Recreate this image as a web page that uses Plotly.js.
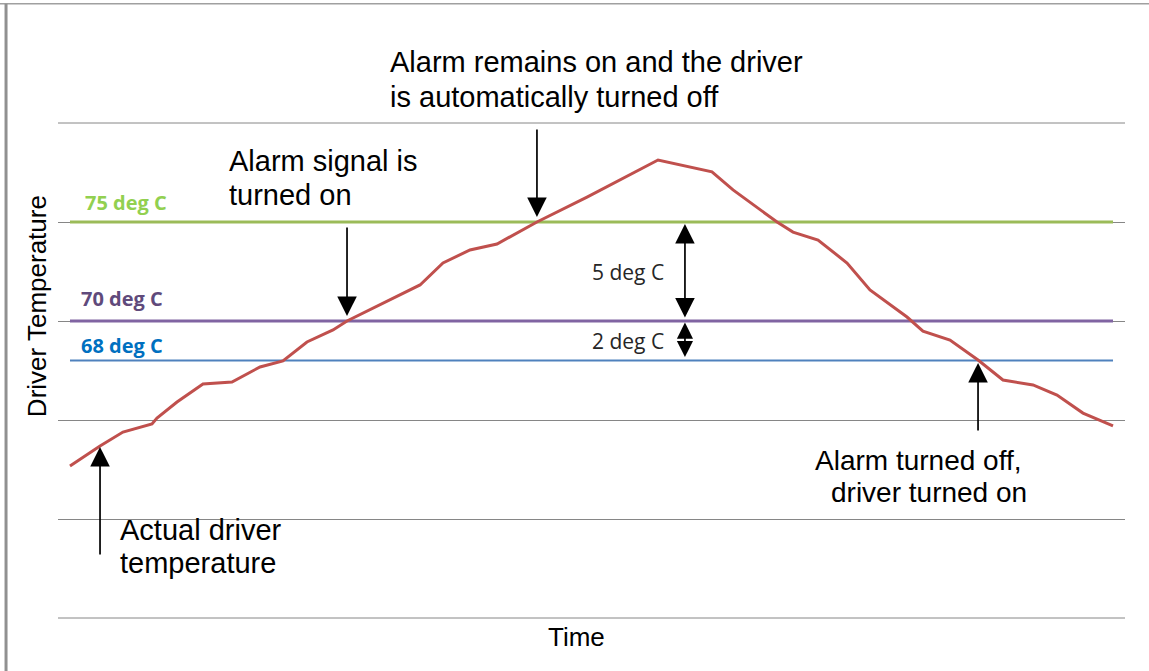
<!DOCTYPE html>
<html>
<head>
<meta charset="utf-8">
<script src="https://cdn.plot.ly/plotly-3.0.1.min.js"></script>
<style>html,body{margin:0;padding:0;background:#fff;}#chart{width:1149px;height:671px;}</style>
</head>
<body>
<div id="chart"></div>
<script>
// Actual driver temperature over time (time in arbitrary units 0..100, temperature in deg C)
const timeValues = [0, 2.88, 5.08, 7.86, 8.34, 10.26, 12.75, 15.53, 18.22, 20.42, 22.72, 25.22, 26.56,
  31.64, 33.56, 35.76, 38.35, 40.94, 44.77, 49.57, 56.38, 61.55, 63.57, 67.79, 69.32, 71.72, 74.50,
  76.70, 80.25, 81.78, 84.37, 87.06, 89.45, 92.33, 94.63, 97.12, 100];
const tempValues = [62.68, 63.69, 64.39, 64.80, 65.10, 65.91, 66.82, 66.92, 67.68, 67.98, 68.94, 69.55, 70.0,
  71.31, 71.82, 72.93, 73.59, 73.89, 75.0, 76.26, 78.13, 77.53, 76.62, 75.0, 74.49, 74.09, 72.93,
  71.57, 70.20, 69.49, 69.04, 68.03, 67.02, 66.77, 66.26, 65.35, 64.70];

// Threshold levels
const thresholdTemps = [75, 70, 68];
const thresholdLabels = ['75 deg C', '70 deg C', '68 deg C'];
const thresholdLineColors = ['#9BBB59', '#8064A2', '#4F81BD'];
const thresholdLabelColors = ['#92D050', '#604A7B', '#0070C0'];
const thresholdWidths = [3, 3, 2];
const timeSpan = [0, 100];

// Callout arrows: head (time, temp), tail temp
const arrowHeadTime = [44.77, 26.56, 2.88, 87.06];
const arrowHeadTemp = [75.25, 70.25, 63.64, 67.88];
const arrowTailTemp = [79.75, 74.8, 58.13, 64.39];

// Callout text lines
const topCallout = ['Alarm remains on and the driver', 'is automatically turned off'];
const signalCallout = ['Alarm signal is', 'turned on'];
const actualCallout = ['Actual driver', 'temperature'];
const offCallout = ['Alarm turned off,', 'driver turned on'];

const gapLabels = ['5 deg C', '2 deg C'];
const gapTime = 58.96;

const FONT = 'Liberation Sans, Arial, sans-serif';
const CAL = 'Open Sans, Noto Sans, sans-serif';
const TXT = 29;

const traces = [];
thresholdTemps.forEach((t, i) => {
  traces.push({x: timeSpan, y: [t, t], mode: 'lines', line: {color: thresholdLineColors[i], width: thresholdWidths[i]}, hoverinfo: 'skip', showlegend: false});
});
traces.push({x: timeValues, y: tempValues, mode: 'lines', line: {color: '#C0504D', width: 3}, showlegend: false});

const ann = [];
// threshold labels
const labelTempPos = [75.96, 71.16, 68.74];
const labelTimePos = [1.2, 0.85, 0.85];
thresholdTemps.forEach((t, i) => {
  ann.push({x: labelTimePos[i], y: labelTempPos[i], xref: 'x', yref: 'y', text: '<b>' + thresholdLabels[i] + '</b>', showarrow: false,
    xanchor: 'left', yanchor: 'middle', font: {family: CAL, size: 20, color: thresholdLabelColors[i]}});
});
// callout arrows
arrowHeadTime.forEach((t, i) => {
  ann.push({x: t, y: arrowHeadTemp[i], ax: t, ay: arrowTailTemp[i], xref: 'x', yref: 'y', axref: 'x', ayref: 'y',
    text: '', showarrow: true, arrowhead: 2, arrowsize: 2.3, arrowwidth: 1.7, arrowcolor: '#000', standoff: 0});
});
function line(txt, x, y, xref, yref, xanchor, size) {
  ann.push({x: x, y: y, xref: xref, yref: yref, text: txt, showarrow: false, xanchor: xanchor, yanchor: 'middle', font: {family: FONT, size: size || TXT, color: '#000'}});
}
// top callout (above plot area, paper coords)
line(topCallout[0], 0.309, 1.1232, 'paper', 'paper', 'left');
line(topCallout[1], 0.309, 1.0525, 'paper', 'paper', 'left');
line(signalCallout[0], 15.1, 78.08, 'x', 'y', 'left');
line(signalCallout[1], 15.1, 76.36, 'x', 'y', 'left');
line(actualCallout[0], 4.6, 59.44, 'x', 'y', 'left');
line(actualCallout[1], 4.6, 57.78, 'x', 'y', 'left');
line(offCallout[0], 81.3, 62.98, 'x', 'y', 'center', 28);
line(offCallout[1], 82.4, 61.36, 'x', 'y', 'center', 28);
// gap arrows
ann.push({x: gapTime, y: 74.9, ax: gapTime, ay: 70.1, xref: 'x', yref: 'y', axref: 'x', ayref: 'y', text: '', showarrow: true,
  arrowhead: 2, startarrowhead: 2, arrowside: 'end+start', arrowsize: 2.3, startarrowsize: 2.3, arrowwidth: 1.7, arrowcolor: '#000', standoff: 0, startstandoff: 0});
ann.push({x: gapTime, y: 69.92, ax: gapTime, ay: 68.1, xref: 'x', yref: 'y', axref: 'x', ayref: 'y', text: '', showarrow: true,
  arrowhead: 2, startarrowhead: 2, arrowside: 'end+start', arrowsize: 1.9, startarrowsize: 1.9, arrowwidth: 1.7, arrowcolor: '#000', standoff: 0, startstandoff: 0});
ann.push({x: 57.1, y: 72.47, xref: 'x', yref: 'y', text: gapLabels[0], showarrow: false, xanchor: 'right', yanchor: 'middle', font: {family: CAL, size: 21, color: '#262626'}});
ann.push({x: 57.1, y: 68.99, xref: 'x', yref: 'y', text: gapLabels[1], showarrow: false, xanchor: 'right', yanchor: 'middle', font: {family: CAL, size: 21, color: '#262626'}});
// axis titles as annotations
ann.push({x: -0.0197, y: 0.630, xref: 'paper', yref: 'paper', text: 'Driver Temperature', textangle: -90, showarrow: false, xanchor: 'center', yanchor: 'middle', font: {family: FONT, size: 26, color: '#000'}});
ann.push({x: 0.4855, y: -0.0384, xref: 'paper', yref: 'paper', text: 'Time', showarrow: false, xanchor: 'center', yanchor: 'middle', font: {family: FONT, size: 26, color: '#000'}});

const layout = {
  width: 1149, height: 671,
  margin: {l: 58, r: 24, t: 123, b: 53},
  paper_bgcolor: '#fff', plot_bgcolor: '#fff',
  showlegend: false,
  xaxis: {range: [-1.15, 101.15], showgrid: false, zeroline: false, showticklabels: false, ticks: '', showline: false},
  yaxis: {range: [55, 80], dtick: 5, tick0: 55, showgrid: true, gridcolor: '#868686', gridwidth: 1, zeroline: false, showticklabels: false, ticks: '', showline: false},
  annotations: ann,
  shapes: [
    {type: 'line', xref: 'paper', yref: 'paper', x0: -0.06, x1: 1.03, y0: 1.241, y1: 1.241, line: {color: '#A0A0A0', width: 1.5}},
    {type: 'line', xref: 'paper', yref: 'paper', x0: -0.0487, x1: -0.0487, y0: 1.241, y1: -0.11, line: {color: '#909090', width: 3}},
    {type: 'line', xref: 'paper', yref: 'paper', x0: 0, x1: 1, y0: 0, y1: 0, line: {color: '#868686', width: 1}},
    {type: 'line', xref: 'paper', yref: 'paper', x0: 0, x1: 1, y0: 1, y1: 1, line: {color: '#868686', width: 1}}
  ]
};

Plotly.newPlot('chart', traces, layout, {displayModeBar: false, staticPlot: true});
</script>
</body>
</html>
